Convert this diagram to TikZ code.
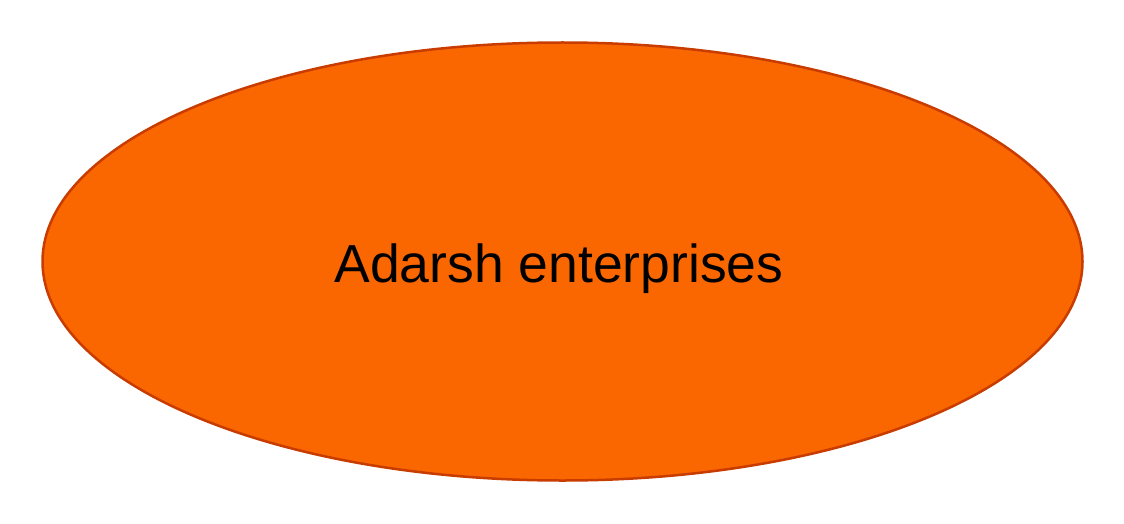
\documentclass[tikz,border=0pt]{standalone}
\usepackage{fontspec}
\setmainfont{Liberation Sans}
\usetikzlibrary{shapes.geometric}
\definecolor{fillor}{HTML}{FA6600}
\definecolor{edgeor}{HTML}{C83C00}
\tikzset{oval/.style={ellipse, draw=edgeor, fill=fillor, line width=2.5pt, minimum width=1040pt, minimum height=438pt, inner sep=0pt},
lbl/.style={anchor=base, inner sep=0pt, font=\fontsize{53.5}{60}\selectfont}}
\begin{document}
\begin{tikzpicture}[x=1pt,y=-1pt]
\useasboundingbox (0,0) rectangle (1124,524);
\node[oval] (e) at (562.5,261.5) {};
\node[lbl] (t) at (559,282) {Adarsh enterprises};
\end{tikzpicture}
\end{document}
